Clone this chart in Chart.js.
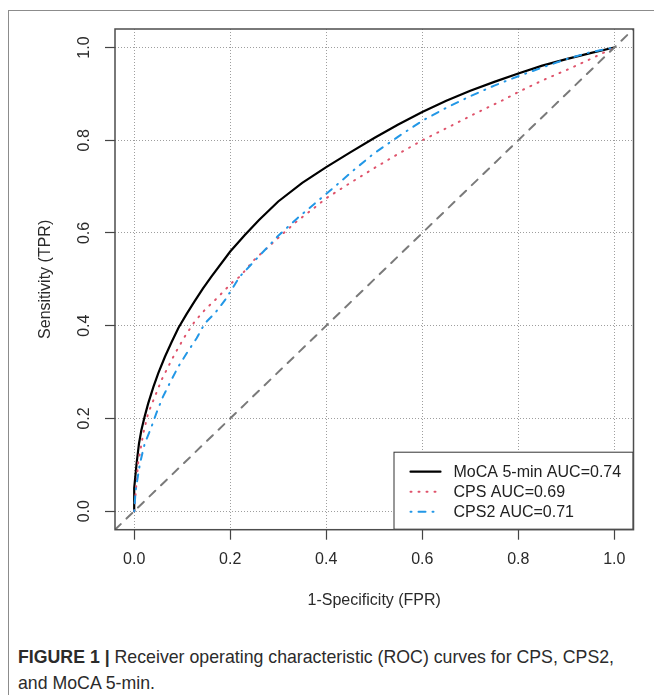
<!DOCTYPE html>
<html>
<head>
<meta charset="utf-8">
<script src="https://cdn.jsdelivr.net/npm/chart.js@4.4.1/dist/chart.umd.min.js"></script>
<style>
  html, body { margin: 0; padding: 0; background: #fff; }
  body { width: 654px; height: 695px; position: relative; overflow: hidden; }
  #frame { position: absolute; left: 8px; top: 10px; width: 700px; height: 720px;
           border-left: 1.5px solid #8c8c8c; border-top: 1.5px solid #8c8c8c; }
  #roc { position: absolute; left: 0; top: 0; }
  .cap { position: absolute; left: 18px; white-space: nowrap; transform-origin: 0 50%;
         font-family: "Liberation Sans", Arial, sans-serif; font-size: 19px; color: #2b2b2b; line-height: 22px; }
  .cap b { font-weight: bold; }
</style>
</head>
<body>
<div id="frame"></div>
<canvas id="roc" width="654" height="640"></canvas>
<div class="cap" id="cap1" style="top:646px"><b>FIGURE 1 |</b> Receiver operating characteristic (ROC) curves for CPS, CPS2,</div>
<div class="cap" id="cap2" style="top:672px">and MoCA 5-min.</div>
<script>
// tick values for both axes
var xTicks = [0, 0.2, 0.4, 0.6, 0.8, 1.0];
var yTicks = [0, 0.2, 0.4, 0.6, 0.8, 1.0];

// MoCA 5-min
var mocaFpr = [0, 0, 0.005, 0.01, 0.015, 0.022, 0.029, 0.04, 0.05, 0.064, 0.078, 0.092, 0.109, 0.126, 0.143, 0.16,
               0.2, 0.23, 0.26, 0.3, 0.35, 0.4, 0.45, 0.5, 0.55, 0.6, 0.65, 0.7, 0.75, 0.8, 0.85, 0.9, 0.95, 1.0];
var mocaTpr = [0, 0.05, 0.103, 0.146, 0.175, 0.205, 0.232, 0.268, 0.297, 0.333, 0.365, 0.395, 0.425, 0.453, 0.48, 0.505,
               0.56, 0.595, 0.628, 0.668, 0.708, 0.742, 0.774, 0.805, 0.834, 0.861, 0.885, 0.907, 0.926, 0.944, 0.961, 0.975, 0.988, 1.0];

// CPS
var cpsFpr = [0, 0.008, 0.019, 0.029, 0.043, 0.057, 0.071, 0.085, 0.105, 0.126, 0.147, 0.168, 0.189, 0.206, 0.22,
              0.25, 0.29, 0.335, 0.376, 0.4, 0.45, 0.5, 0.544, 0.6, 0.656, 0.711, 0.767, 0.8, 0.85, 0.906, 0.954, 1.0];
var cpsTpr = [0, 0.103, 0.168, 0.211, 0.247, 0.283, 0.312, 0.34, 0.376, 0.409, 0.434, 0.455, 0.477, 0.495, 0.506,
              0.542, 0.58, 0.622, 0.655, 0.675, 0.708, 0.74, 0.767, 0.8, 0.829, 0.858, 0.886, 0.904, 0.929, 0.954, 0.977, 1.0];

// CPS2
var cps2Fpr = [0, 0.003, 0.012, 0.022, 0.036, 0.046, 0.06, 0.074, 0.092, 0.109, 0.13, 0.147, 0.168, 0.189, 0.209, 0.22,
               0.26, 0.3, 0.34, 0.38, 0.42, 0.46, 0.5, 0.55, 0.6, 0.65, 0.7, 0.75, 0.8, 0.85, 0.9, 0.95, 1.0];
var cps2Tpr = [0, 0.045, 0.103, 0.146, 0.182, 0.211, 0.247, 0.276, 0.312, 0.34, 0.373, 0.405, 0.427, 0.455, 0.488, 0.506,
               0.55, 0.594, 0.632, 0.667, 0.702, 0.738, 0.772, 0.808, 0.842, 0.87, 0.895, 0.918, 0.938, 0.957, 0.975, 0.99, 1.0];

// chance line (abline 0,1) across the padded range
var diagX = [-0.04, 1.04];
var diagY = [-0.04, 1.04];

var seriesLabels = ['MoCA 5-min AUC=0.74', 'CPS AUC=0.69', 'CPS2 AUC=0.71'];

function toPoints(xs, ys) {
    return xs.map(function(x, i) { return { x: x, y: ys[i] }; });
}

var FONT = '"Liberation Sans", Arial, sans-serif';

// R-style box + legend drawn inside the plot region
var rocDecor = {
    id: 'rocDecor',
    afterDatasetsDraw: function(chart) {
        var ctx = chart.ctx, a = chart.chartArea;
        ctx.save();
        // legend
        var w = 240, h = 78;
        var lx = a.right - w, ly = a.bottom - h;
        ctx.fillStyle = '#fff';
        ctx.fillRect(lx, ly, w, h);
        ctx.strokeStyle = '#333';
        ctx.lineWidth = 1;
        ctx.strokeRect(lx + 0.5, ly + 0.5, w - 1, h - 1);
        ctx.font = '16px ' + FONT;
        ctx.textBaseline = 'middle';
        ctx.textAlign = 'left';
        for (var i = 0; i < 3; i++) {
            var ds = chart.data.datasets[i];
            var cy = ly + 20 + i * 20;
            ctx.beginPath();
            ctx.strokeStyle = ds.borderColor;
            ctx.lineWidth = ds.borderWidth;
            ctx.lineCap = 'round';
            ctx.setLineDash(ds.borderDash || []);
            ctx.moveTo(lx + 17, cy);
            ctx.lineTo(lx + 47, cy);
            ctx.stroke();
            ctx.setLineDash([]);
            ctx.fillStyle = '#222';
            ctx.fillText(ds.label, lx + 60, cy + 1);
        }
        // plot box
        ctx.strokeStyle = '#4d4d4d';
        ctx.lineWidth = 1.5;
        ctx.strokeRect(a.left, a.top, a.right - a.left, a.bottom - a.top);
        ctx.restore();
    }
};

Chart.defaults.font.family = FONT;
Chart.defaults.color = '#2a2a2a';

var ctx = document.getElementById('roc').getContext('2d');
new Chart(ctx, {
    type: 'scatter',
    data: {
        datasets: [{
            label: seriesLabels[0],
            data: toPoints(mocaFpr, mocaTpr),
            borderColor: '#000000',
            borderWidth: 2.2,
            borderCapStyle: 'round',
            showLine: true, pointRadius: 0, tension: 0, order: 3
        }, {
            label: seriesLabels[1],
            data: toPoints(cpsFpr, cpsTpr),
            borderColor: '#DF536B',
            borderWidth: 2,
            borderDash: [1, 7],
            borderCapStyle: 'round',
            showLine: true, pointRadius: 0, tension: 0, order: 2
        }, {
            label: seriesLabels[2],
            data: toPoints(cps2Fpr, cps2Tpr),
            borderColor: '#2297E6',
            borderWidth: 2,
            borderDash: [1, 7, 7, 7],
            borderCapStyle: 'round',
            showLine: true, pointRadius: 0, tension: 0, order: 1
        }, {
            label: 'chance',
            data: toPoints(diagX, diagY),
            borderColor: '#7a7a7a',
            borderWidth: 2,
            borderDash: [8, 8],
            borderCapStyle: 'round',
            showLine: true, pointRadius: 0, tension: 0, order: 0
        }]
    },
    options: {
        responsive: false,
        animation: false,
        devicePixelRatio: 1,
        layout: { padding: { left: 0, top: 29, right: 20.5, bottom: 0 } },
        plugins: { legend: { display: false }, tooltip: { enabled: false } },
        scales: {
            x: {
                type: 'linear', min: -0.04, max: 1.04,
                afterBuildTicks: function(s) { s.ticks = xTicks.map(function(v) { return { value: v }; }); },
                afterFit: function(s) { s.height = 110.3; },
                ticks: {
                    padding: 10.7,
                    font: { size: 16 },
                    callback: function(v) { return v.toFixed(1); }
                },
                grid: { color: '#9e9e9e', lineWidth: 1, drawTicks: true, tickLength: 10,
                        tickColor: '#444', tickWidth: 1.2, tickBorderDash: [] },
                border: { display: false, dash: [1, 2] },
                title: { display: true, text: '1-Specificity (FPR)', font: { size: 16 },
                         padding: { top: 0, bottom: 29.4 } }
            },
            y: {
                type: 'linear', min: -0.04, max: 1.04,
                afterBuildTicks: function(s) { s.ticks = yTicks.map(function(v) { return { value: v }; }); },
                afterFit: function(s) { s.width = 115; },
                ticks: {
                    padding: 9,
                    minRotation: 90, maxRotation: 90,
                    crossAlign: 'center',
                    font: { size: 16 },
                    callback: function(v) { return v.toFixed(1); }
                },
                grid: { color: '#9e9e9e', lineWidth: 1, drawTicks: true, tickLength: 10,
                        tickColor: '#444', tickWidth: 1.2, tickBorderDash: [] },
                border: { display: false, dash: [1, 2] },
                title: { display: true, text: 'Sensitivity (TPR)', font: { size: 16 },
                         padding: { top: 36.4, bottom: 0 } }
            }
        }
    },
    plugins: [rocDecor]
});

// narrow the caption to the width of the original typeset line
(function() {
    var c1 = document.getElementById('cap1'), c2 = document.getElementById('cap2');
    var k = 596 / c1.getBoundingClientRect().width;
    c1.style.transform = 'scaleX(' + k + ')';
    c2.style.transform = 'scaleX(' + k + ')';
})();
</script>
</body>
</html>
